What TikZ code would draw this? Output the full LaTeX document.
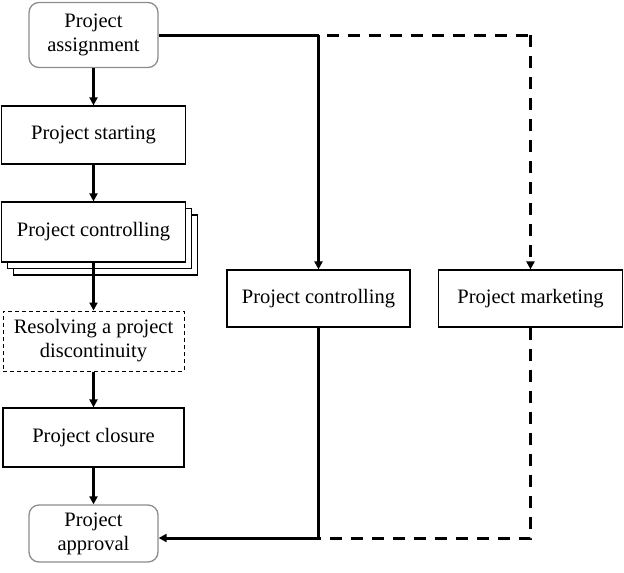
\documentclass[tikz,border=0pt]{standalone}
\usepackage{fontspec}
\setmainfont{Liberation Serif}
\usetikzlibrary{arrows.meta,shadows}
\begin{document}
\begin{tikzpicture}[x=1pt,y=-1pt,
  every node/.style={font=\fontsize{20.5}{24}\selectfont, align=center, inner sep=0pt},
  box/.style={draw, line width=1.2pt, fill=white},
  rbox/.style={draw=black!45, line width=1.3pt, rounded corners=10pt, fill=white},
  dbox/.style={draw, line width=1pt, dash pattern=on 4pt off 3pt, fill=white},
  conn/.style={line width=3pt, -{Triangle[length=8pt,width=8pt]}},
  plain/.style={line width=3pt},
  dconn/.style={line width=3pt, dash pattern=on 12pt off 9pt, -{Triangle[length=8pt,width=8pt]}},
  dplain/.style={line width=3pt, dash pattern=on 12pt off 9pt}]
\useasboundingbox (0,0) rectangle (624,573);
\node[rbox, minimum width=129pt, minimum height=65pt] (assign) at (93.5,35) {Project\\assignment};
\node[box, minimum width=184pt, minimum height=58pt] (start) at (93.5,135) {Project starting};
\node[box, minimum width=184pt, minimum height=60pt,
  double copy shadow={shadow xshift=6pt, shadow yshift=-6.5pt, draw, line width=1.2pt, fill=white}] (ctrl) at (93.5,232) {Project controlling};
\node[dbox, minimum width=181pt, minimum height=60pt] (resolve) at (93.5,341) {Resolving a project\\discontinuity};
\node[box, minimum width=181pt, minimum height=59pt] (closure) at (93.5,437.5) {Project closure};
\node[rbox, minimum width=129pt, minimum height=57pt] (approval) at (93.5,533.5) {Project\\approval};
\node[box, minimum width=183pt, minimum height=57pt] (pc) at (318.5,298.5) {Project controlling};
\node[box, minimum width=184pt, minimum height=57pt] (pm) at (530.5,298.5) {Project marketing};

\coordinate (ta) at (318.5,35);
\coordinate (tb) at (530.5,35);
\coordinate (ba) at (318.5,538);
\coordinate (bb) at (530.5,538);

\draw[conn] (assign) -- (start);
\draw[conn] (start) -- (ctrl);
\draw[conn] (ctrl) -- (resolve);
\draw[conn] (resolve) -- (closure);
\draw[conn] (closure) -- (approval);

\draw[dplain] (assign.east) -- (tb);
\draw[dconn] (tb) -- (pm.north);
\draw[dplain] (pm.south) -- (bb) -- (ba);
\draw[plain] (assign.east) -- (ta);
\draw[conn] (ta) -- (pc.north);
\draw[conn] (pc.south) -- (ba) -- (ba -| approval.east);
\end{tikzpicture}
\end{document}
